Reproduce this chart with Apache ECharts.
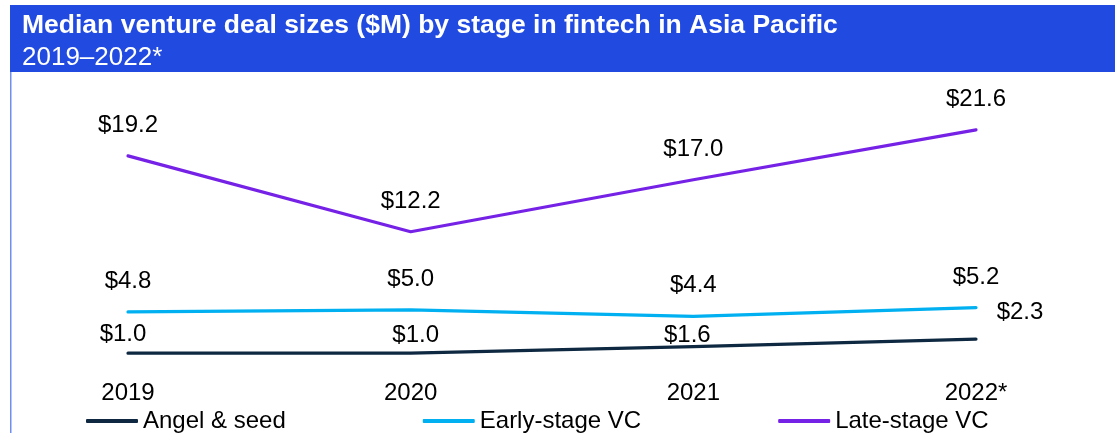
<!DOCTYPE html>
<html>
<head>
<meta charset="utf-8">
<script src="https://cdn.jsdelivr.net/npm/echarts@6/dist/echarts.min.js"></script>
<style>
  html, body { margin: 0; padding: 0; background: #ffffff; }
  #chart { width: 1115px; height: 433px; }
</style>
</head>
<body>
<div id="chart"></div>
<script>
// Median venture deal sizes ($M) by stage, fintech, Asia Pacific
const years = ['2019', '2020', '2021', '2022*'];
const angelSeed = [1.0, 1.0, 1.6, 2.3];
const earlyStage = [4.8, 5.0, 4.4, 5.2];
const lateStage = [19.2, 12.2, 17.0, 21.6];

const seriesNames = ['Angel & seed', 'Early-stage VC', 'Late-stage VC'];
const seriesColors = ['#0e2841', '#00b0f0', '#7622e6'];

// label nudges for the lower series, where labels would otherwise collide
const angelLabelOffsets = [[-5, 12], [5, 13], [-6, 19], [44, 4]];

const FONT = '"Liberation Sans", Arial, Helvetica, sans-serif';

function fmt(p) { return '$' + p.value.toFixed(1); }

function makeSeries(name, values, color, offsets) {
  return {
    name: name,
    type: 'line',
    symbol: 'circle',
    symbolSize: 1,
    smooth: false,
    color: color,
    itemStyle: { color: color },
    lineStyle: { color: color, width: 3.2, cap: 'round', join: 'round' },
    label: {
      show: true,
      position: 'top',
      distance: 18,
      color: '#000000',
      fontFamily: FONT,
      fontSize: 24,
      formatter: fmt
    },
    data: values.map(function (v, i) {
      const item = { value: v };
      if (offsets) item.label = { offset: offsets[i] };
      return item;
    }),
    z: 3
  };
}

const chart = echarts.init(document.getElementById('chart'), null, { renderer: 'canvas' });

chart.setOption({
  animation: false,
  backgroundColor: '#ffffff',
  graphic: [
    { type: 'rect', shape: { x: 10, y: 5, width: 1105, height: 67 }, style: { fill: '#214ae1' }, z: 0 },
    { type: 'rect', shape: { x: 10, y: 72, width: 1.5, height: 361 }, style: { fill: '#6f8ff0' }, z: 0 },
    {
      type: 'text', left: 22, top: 12, z: 1,
      style: {
        text: 'Median venture deal sizes ($M) by stage in fintech in Asia Pacific',
        fill: '#ffffff', font: 'bold 26.5px ' + FONT
      }
    },
    {
      type: 'text', left: 22, top: 45, z: 1,
      style: { text: '2019\u20132022*', fill: '#ffffff', font: '26px ' + FONT }
    }
  ],
  grid: { left: 128, right: 139, top: 93, bottom: 69, containLabel: false },
  xAxis: {
    type: 'category',
    data: years,
    boundaryGap: false,
    axisLine: { show: false },
    axisTick: { show: false },
    splitLine: { show: false },
    axisLabel: { color: '#000000', fontFamily: FONT, fontSize: 24, margin: 17 }
  },
  yAxis: {
    type: 'value',
    min: 0,
    max: 25,
    show: false,
    splitLine: { show: false }
  },
  legend: {
    data: seriesNames,
    left: 86,
    top: 409,
    padding: 0,
    itemWidth: 52,
    itemHeight: 4,
    itemGap: 137,
    icon: 'roundRect',
    textStyle: { color: '#000000', fontFamily: FONT, fontSize: 24 }
  },
  series: [
    makeSeries(seriesNames[0], angelSeed, seriesColors[0], angelLabelOffsets),
    makeSeries(seriesNames[1], earlyStage, seriesColors[1], null),
    makeSeries(seriesNames[2], lateStage, seriesColors[2], null)
  ]
});
</script>
</body>
</html>
